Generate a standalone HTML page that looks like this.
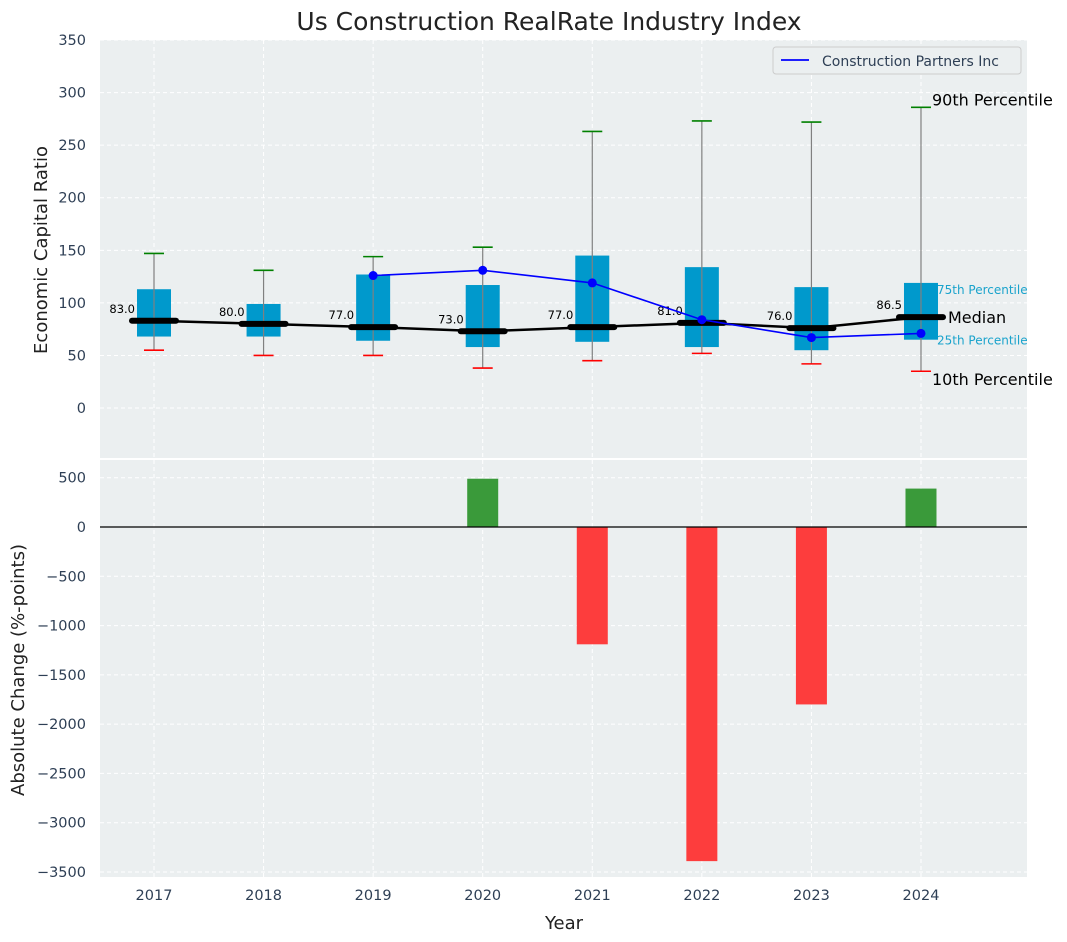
<!DOCTYPE html>
<html><head><meta charset="utf-8">
<style>
body{margin:0;background:#fff;}
svg{display:block;font-family:"DejaVu Sans","Liberation Sans",sans-serif;}
</style></head>
<body>
<svg id="c" width="1067" height="942" viewBox="0 0 1067 942"></svg>
<script>
const years=[2017,2018,2019,2020,2021,2022,2023,2024];
const p10=[55,50,50,38,45,52,42,35];
const p25=[68,68,64,58,63,58,55,65];
const p50=[83,80,77,73,77,81,76,86.5];
const p75=[113,99,127,117,145,134,115,119];
const p90=[147,131,144,153,263,273,272,286];
const compYears=[2019,2020,2021,2022,2023,2024];
const compVals=[126,131,119,84,67,71];
const changeYears=[2020,2021,2022,2023,2024];
const changeVals=[490,-1190,-3390,-1800,390];
const topTicks=[0,50,100,150,200,250,300,350];
const botTicks=[500,0,-500,-1000,-1500,-2000,-2500,-3000,-3500];

const NS="http://www.w3.org/2000/svg";
const svg=document.getElementById('c');
function el(t,a,txt,parent){const e=document.createElementNS(NS,t);for(const k in a)e.setAttribute(k,a[k]);if(txt!==undefined)e.textContent=txt;(parent||svg).appendChild(e);return e;}
const L=100,R=1027;
const x=v=>154+(v-2017)*109.57;
const T0=40,T1=458; const yT=v=>T0+(350-v)/(350+47.5)*(T1-T0);
const B0=460,B1=877; const yB=v=>B0+(680-v)/(680+3551)*(B1-B0);

let e;
e=el('rect',{x:L,y:T0,width:R-L,height:T1-T0,fill:'#ebeff0'});

e=el('rect',{x:L,y:B0,width:R-L,height:B1-B0,fill:'#ebeff0'});


years.forEach(yr=>{
 e=el('line',{x1:x(yr),x2:x(yr),y1:T0,y2:T1,stroke:'#fff','stroke-dasharray':'4,3','stroke-width':1});
 
 e=el('line',{x1:x(yr),x2:x(yr),y1:B0,y2:B1,stroke:'#fff','stroke-dasharray':'4,3','stroke-width':1});
 
 e=el('text',{x:x(yr),y:900,'text-anchor':'middle','font-size':14.5,fill:'#2e3f55'},yr);
 
});
topTicks.forEach(t=>{
 e=el('line',{x1:L,x2:R,y1:yT(t),y2:yT(t),stroke:'#fff','stroke-dasharray':'4,3'});
 
 e=el('text',{x:86,y:yT(t)+5,'text-anchor':'end','font-size':14.5,fill:'#2e3f55'},t);
 
});
botTicks.forEach(t=>{
 e=el('line',{x1:L,x2:R,y1:yB(t),y2:yB(t),stroke:'#fff','stroke-dasharray':'4,3'});
 
 e=el('text',{x:86,y:yB(t)+5,'text-anchor':'end','font-size':14.5,fill:'#2e3f55'},t<0?'\u2212'+(-t):t);
 
});

const bw=34;
years.forEach((yr,i)=>{
 const cx=x(yr);
 e=el('rect',{x:cx-bw/2,y:yT(p75[i]),width:bw,height:yT(p25[i])-yT(p75[i]),fill:'#0099cc'});
 
 e=el('line',{x1:cx,x2:cx,y1:yT(p90[i]),y2:yT(p10[i]),stroke:'#808080','stroke-width':1.2});
 
 e=el('line',{x1:cx-10,x2:cx+10,y1:yT(p90[i]),y2:yT(p90[i]),stroke:'green','stroke-width':1.6});
 
 e=el('line',{x1:cx-10,x2:cx+10,y1:yT(p10[i]),y2:yT(p10[i]),stroke:'red','stroke-width':1.6});
 
});
e=el('polyline',{points:years.map((yr,i)=>x(yr)+','+yT(p50[i])).join(' '),fill:'none',stroke:'#000','stroke-width':2.5});

years.forEach((yr,i)=>{
 const cx=x(yr);
 e=el('line',{x1:cx-22,x2:cx+22,y1:yT(p50[i]),y2:yT(p50[i]),stroke:'#000','stroke-width':6,'stroke-linecap':'round'});
 
 e=el('text',{x:cx-19,y:yT(p50[i])-8,'text-anchor':'end','font-size':11.5,fill:'#000'},p50[i].toFixed(1));
 
});
e=el('polyline',{points:compYears.map((yr,i)=>x(yr)+','+yT(compVals[i])).join(' '),fill:'none',stroke:'blue','stroke-width':1.6});

compYears.forEach((yr,i)=>{
 e=el('circle',{cx:x(yr),cy:yT(compVals[i]),r:4.5,fill:'blue'});
 
});
const lx=x(2024);
e=el('text',{x:lx+11,y:yT(p90[7])-2,'font-size':16,fill:'#000'},'90th Percentile');

e=el('text',{x:lx+11,y:yT(p10[7])+14,'font-size':16,fill:'#000'},'10th Percentile');

e=el('text',{x:lx+27,y:yT(p50[7])+6,'font-size':16,fill:'#000'},'Median');

e=el('text',{x:lx+16,y:yT(p75[7])+11,'font-size':12,fill:'#1aa3cc'},'75th Percentile');

e=el('text',{x:lx+16,y:yT(p25[7])+5,'font-size':12,fill:'#1aa3cc'},'25th Percentile');


const lg=el('g',{});

el('rect',{x:773,y:47,width:248,height:27,rx:3,fill:'#ebeff0',stroke:'#ccc'},undefined,lg);
el('line',{x1:781,x2:809,y1:60,y2:60,stroke:'blue','stroke-width':1.8},undefined,lg);
e=el('text',{x:822,y:66,'font-size':14,fill:'#2e3f55'},'Construction Partners Inc',lg);


changeYears.forEach((yr,i)=>{
 const v=changeVals[i];const y0=yB(0),y1=yB(v);
 e=el('rect',{x:x(yr)-15.5,y:Math.min(y0,y1),width:31,height:Math.abs(y1-y0),fill:v>=0?'#3a9a3a':'#fd3d3d'});
 
});
e=el('line',{x1:L,x2:R,y1:yB(0),y2:yB(0),stroke:'#000','stroke-width':1.2});


e=el('text',{x:549,y:30,'text-anchor':'middle','font-size':25,fill:'#222'},'Us Construction RealRate Industry Index');

e=el('text',{x:564,y:929,'text-anchor':'middle','font-size':18,fill:'#222'},'Year');

e=el('text',{x:47,y:250,'text-anchor':'middle','font-size':18,fill:'#222',transform:'rotate(-90 47 250)'},'Economic Capital Ratio');

e=el('text',{x:24,y:670,'text-anchor':'middle','font-size':18,fill:'#222',transform:'rotate(-90 24 670)'},'Absolute Change (%-points)');

</script>
</body></html>
